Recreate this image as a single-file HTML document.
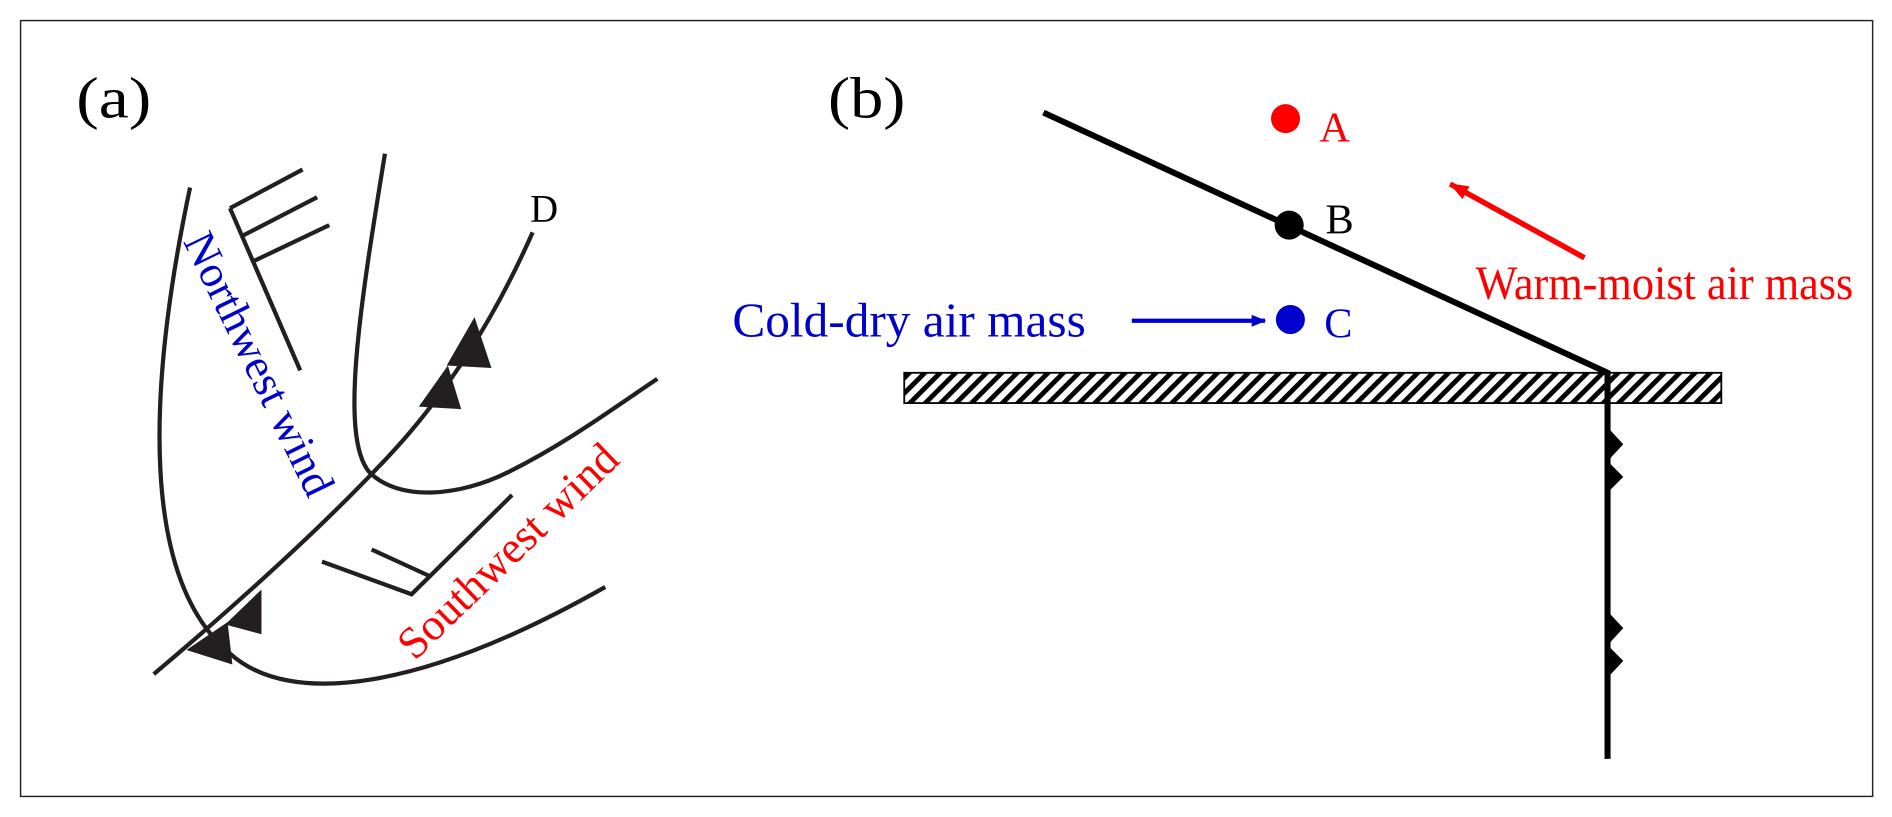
<!DOCTYPE html>
<html><head><meta charset="utf-8"><style>
html,body{margin:0;padding:0;background:#fff;}
svg{display:block;}
text{font-family:"Liberation Serif",serif;}
</style></head><body>
<svg width="1892" height="817" viewBox="0 0 1563 675" preserveAspectRatio="none" xmlns="http://www.w3.org/2000/svg">
<defs>
<pattern id="h" width="9" height="9" patternUnits="userSpaceOnUse" patternTransform="rotate(45)">
<rect width="9" height="9" fill="#fff"/><rect width="4" height="9" fill="#000"/>
</pattern>
<marker id="ab" markerWidth="12" markerHeight="10" refX="11" refY="5" orient="auto" markerUnits="userSpaceOnUse"><path d="M0,0 L12,5 L0,10 Z" fill="#0000cc"/></marker>
<marker id="ar" markerWidth="16" markerHeight="12" refX="15" refY="6" orient="auto" markerUnits="userSpaceOnUse"><path d="M0,0 L16,6 L0,12 Z" fill="#ff0000"/></marker>
</defs>
<rect x="17" y="17" width="1530" height="641" fill="none" stroke="#222" stroke-width="1.2"/>
<text x="63" y="97" font-size="48" textLength="62" lengthAdjust="spacingAndGlyphs">(a)</text>
<text x="684" y="97" font-size="48" textLength="64" lengthAdjust="spacingAndGlyphs">(b)</text>
<g fill="none" stroke="#231f20" stroke-width="3.5" stroke-linecap="butt">
<path d="M157,155 C120,330 118,480 190,540 C240,585 350,570 500,485"/>
<path d="M318,127 C298,250 280,360 305,390 C330,415 380,410 420,390 C470,365 510,335 543,313"/>
<path d="M127,557 C230,470 290,410 320,378 C370,325 410,260 440,192"/>
<path d="M190,172 L248,306 M190,172 L250,140 M200,195 L262,163 M209,216 L272,186"/>
<path d="M423,409 L340,491 L266,464 M355,476 L307,454"/>
</g>
<g fill="#231f20">
<polygon points="392,262 369,302 406,304"/>
<polygon points="370,302 346,336 381,338"/>
<polygon points="216,487 186,516 216,524"/>
<polygon points="188,514 154,537 192,549"/>
</g>
<text x="438" y="183" font-size="32">D</text>
<text transform="translate(203,306) rotate(64)" text-anchor="middle" font-size="37" fill="#0000cc">Northwest wind</text>
<text transform="translate(428,464) rotate(-44)" text-anchor="middle" font-size="37" fill="#ff0000">Southwest wind</text>

<rect x="747" y="308" width="675" height="25" fill="url(#h)" stroke="#000" stroke-width="1.5"/>
<line x1="862" y1="93" x2="1328" y2="308" stroke="#000" stroke-width="5"/>
<line x1="1328" y1="306" x2="1328" y2="627" stroke="#000" stroke-width="5"/>
<g fill="#000">
<polygon points="1328,353 1341,367 1328,381"/>
<polygon points="1328,381 1341,394 1328,407"/>
<polygon points="1328,505 1341,519 1328,533"/>
<polygon points="1328,533 1341,546 1328,560"/>
</g>
<circle cx="1062" cy="98" r="12" fill="#ff0000"/>
<circle cx="1065" cy="186" r="12" fill="#000"/>
<circle cx="1066" cy="264" r="12" fill="#0000cc"/>
<text x="1090" y="117" font-size="35" fill="#ff0000">A</text>
<text x="1095" y="193" font-size="35" fill="#000">B</text>
<text x="1094" y="279" font-size="35" fill="#0000cc">C</text>
<text x="605" y="278" font-size="40" fill="#0000cc" textLength="292" lengthAdjust="spacingAndGlyphs">Cold-dry air mass</text>
<line x1="935" y1="265" x2="1045" y2="265" stroke="#0000cc" stroke-width="3.5" marker-end="url(#ab)"/>
<line x1="1309" y1="213" x2="1198" y2="152" stroke="#ff0000" stroke-width="4.5" marker-end="url(#ar)"/>
<text x="1219" y="247" font-size="39" fill="#ff0000" textLength="312" lengthAdjust="spacingAndGlyphs">Warm-moist air mass</text>
</svg>
</body></html>
